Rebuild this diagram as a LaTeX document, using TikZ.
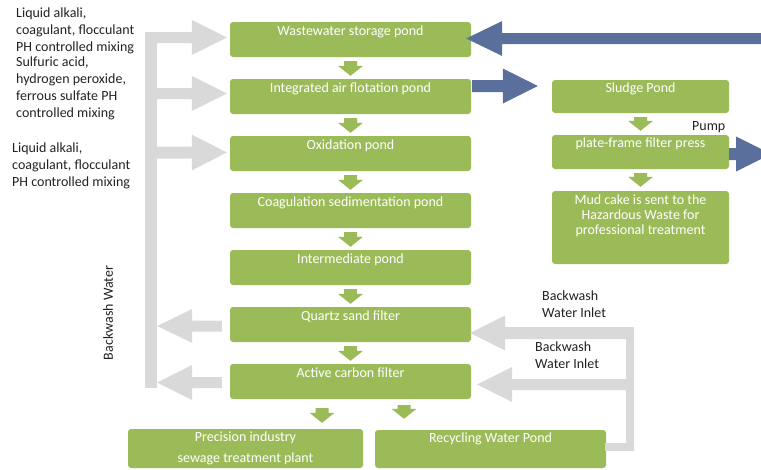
\documentclass[tikz,border=0pt]{standalone}
\usepackage{fontspec}
\setmainfont{Carlito}
\usetikzlibrary{calc}
\definecolor{pgreen}{HTML}{9BBB59}
\definecolor{pblue}{HTML}{5B6F9D}
\definecolor{pgrey}{HTML}{D9D9D9}
\definecolor{ptext}{HTML}{222222}
% horizontal fat arrow: style, from (only x used), tip, half shaft, half head, signed head length
\newcommand\harr[6]{\fill[#1] let \p1=(#2), \p2=(#3) in
 (\x1,{\y2+#4}) -- ({\x2-(#6)},{\y2+#4}) -- ({\x2-(#6)},{\y2+#5}) -- (\x2,\y2)
 -- ({\x2-(#6)},{\y2-#5}) -- ({\x2-(#6)},{\y2-#4}) -- (\x1,{\y2-#4}) -- cycle;}
% vertical (downward) fat arrow: style, from (only y used), tip, half shaft, half head, head length
\newcommand\varr[6]{\fill[#1] let \p1=(#2), \p2=(#3) in
 ({\x2-#4},\y1) -- ({\x2-#4},{\y2+#6}) -- ({\x2-#5},{\y2+#6}) -- (\x2,\y2)
 -- ({\x2+#5},{\y2+#6}) -- ({\x2+#4},{\y2+#6}) -- ({\x2+#4},\y1) -- cycle;}
\begin{document}
\begin{tikzpicture}[x=1pt,y=-1pt,
  box/.style={rectangle, fill=pgreen, rounded corners=3pt, inner sep=0pt},
  mainbox/.style={box, minimum width=241pt, minimum height=35pt},
  sidebox/.style={box, minimum width=177pt},
  btext/.style={text=white, font=\fontsize{14}{15.3}\selectfont, align=center, inner sep=0pt, anchor=north},
  ltext/.style={text=ptext, font=\fontsize{14}{17}\selectfont, align=left, inner sep=0pt, anchor=north west},
  bartxt/.style={text=ptext, font=\fontsize{14}{16.7}\selectfont, align=left, inner sep=0pt, anchor=north west},
  garrow/.style={pgreen}]
\useasboundingbox (0,0) rectangle (761,469);

% main column
\node[mainbox] (ws)  at (350.5, 39.5) {};
\node[mainbox] (iaf) at (350.5, 96.5) {};
\node[mainbox] (ox)  at (350.5,153.5) {};
\node[mainbox] (cs)  at (350.5,210.5) {};
\node[mainbox] (im)  at (350.5,267.5) {};
\node[mainbox] (qs)  at (350.5,324.5) {};
\node[mainbox] (ac)  at (350.5,381.5) {};
\node[btext] (ws-t)  at ($(ws.north)+(0,3.5)$)  {Wastewater storage pond};
\node[btext] (iaf-t) at ($(iaf.north)+(0,3.5)$) {Integrated air flotation pond};
\node[btext] (ox-t)  at ($(ox.north)+(0,3.5)$)  {Oxidation pond};
\node[btext] (cs-t)  at ($(cs.north)+(0,3.5)$)  {Coagulation sedimentation pond};
\node[btext] (im-t)  at ($(im.north)+(0,3.5)$)  {Intermediate pond};
\node[btext] (qs-t)  at ($(qs.north)+(0,3.5)$)  {Quartz sand filter};
\node[btext] (ac-t)  at ($(ac.north)+(0,3.5)$)  {Active carbon filter};

% sludge column
\node[sidebox, minimum height=33pt] (sp) at (640.5, 96.5) {};
\node[sidebox, minimum height=34pt] (pf) at (640.5,152) {};
\node[sidebox, minimum height=73pt] (mc) at (640.5,227.5) {};
\node[btext] (sp-t) at ($(sp.north)+(0,2.5)$) {Sludge Pond};
\node[btext] (pf-t) at ($(pf.north)+(0,3)$) {plate-frame filter press};
\node[btext] (mc-t) at ($(mc.north)+(0,3.5)$) {Mud cake is sent to the\\Hazardous Waste for\\professional treatment};

% bottom boxes
\node[box, minimum width=235pt, minimum height=39pt] (pit) at (245.5,448.5) {};
\node[box, minimum width=231pt, minimum height=38pt] (rc)  at (490.5,449) {};
\node[btext, font=\fontsize{14}{21}\selectfont] (pit-t) at ($(pit.north)+(0,2.5)$) {Precision industry\\sewage treatment plant};
\node[btext] (rc-t) at ($(rc.north)+(0,2.5)$) {Recycling Water Pond};

% small green arrows
\varr{garrow}{$(ws.south)+(0,4)$}{$(iaf.north)+(0,-3)$}{6.5pt}{12.5pt}{10pt}
\varr{garrow}{$(iaf.south)+(0,4)$}{$(ox.north)+(0,-3)$}{6.5pt}{12.5pt}{10pt}
\varr{garrow}{$(ox.south)+(0,4)$}{$(cs.north)+(0,-3)$}{6.5pt}{12.5pt}{10pt}
\varr{garrow}{$(cs.south)+(0,4)$}{$(im.north)+(0,-3)$}{6.5pt}{12.5pt}{10pt}
\varr{garrow}{$(im.south)+(0,4)$}{$(qs.north)+(0,-3)$}{6.5pt}{12.5pt}{10pt}
\varr{garrow}{$(qs.south)+(0,4)$}{$(ac.north)+(0,-3)$}{6.5pt}{12.5pt}{10pt}
\varr{garrow}{$(sp.south)+(0,4)$}{$(pf.north)+(0,-4)$}{6.5pt}{12.5pt}{10pt}
\varr{garrow}{$(pf.south)+(0,4)$}{$(mc.north)+(0,-4)$}{6.5pt}{12.5pt}{10pt}
\coordinate (pa) at ($(ac.south)+(-28.5,9)$);
\coordinate (ra) at ($(ac.south)+(53.5,6)$);
\varr{garrow}{pa}{$(pit.north -| pa)+(0,-6)$}{6.5pt}{12.5pt}{10pt}
\varr{garrow}{ra}{$(rc.north -| ra)+(0,-11)$}{6.5pt}{12.5pt}{10pt}

% blue arrows
\coordinate (in1) at (775,38.5);
\harr{pblue}{in1}{$(ws.east)+(-5,-1)$}{5.5pt}{17.5pt}{-36pt}
\harr{pblue}{$(iaf.east)+(1,0)$}{$(sp.west)+(-14,-10.5)$}{6pt}{17.5pt}{35pt}
\coordinate (pumpout) at ($(pf.east)+(42,2)$);
\harr{pblue}{pf.east}{pumpout}{6pt}{17.5pt}{35pt}
\node[ltext, anchor=base west] (pump) at (692,130.5) {Pump};

% left grey backwash structure
\node[fill=pgrey, inner sep=0pt, minimum width=12pt, minimum height=356pt] (bar) at (151,210) {};
\harr{pgrey}{bar.center}{$(ws.west)+(-3,-2)$}{5.5pt}{17.5pt}{35pt}
\harr{pgrey}{bar.center}{$(iaf.west)+(-3,-3)$}{5.5pt}{17.5pt}{35pt}
\harr{pgrey}{bar.center}{$(ox.west)+(-3,-1)$}{6pt}{18pt}{35pt}
\harr{pgrey}{$(qs.west)+(-8,0)$}{$(bar.east |- qs.west)+(0,1.5)$}{5.5pt}{17pt}{-35pt}
\harr{pgrey}{$(ac.west)+(-8,0)$}{$(bar.east |- ac.west)+(0,1)$}{5.5pt}{17.5pt}{-35pt}
\node[rotate=90, text=ptext, font=\fontsize{14}{17}\selectfont, inner sep=0pt] (bw) at (108,313) {Backwash Water};

% right grey backwash inlet structure
\node[fill=pgrey, inner sep=0pt, minimum width=8pt, minimum height=124pt] (rbar) at (630,389) {};
\harr{pgrey}{rbar.center}{$(qs.east)+(-1,8.5)$}{6pt}{17.5pt}{-35pt}
\harr{pgrey}{rbar.center}{$(ac.east)+(6,3)$}{5.5pt}{17.5pt}{-35pt}
\fill[pgrey] ($(rc.east)+(-1,-6)$) rectangle (rbar.south east);
\node[bartxt] (bwi1) at (542,291) {Backwash\\Water Inlet};
\node[bartxt] (bwi2) at (535,342) {Backwash\\Water Inlet};

% left labels
\node[ltext] (lab1) at (16,7.5) {Liquid alkali,\\coagulant, flocculant\\PH controlled mixing};
\node[ltext] (lab2) at (16,57) {Sulfuric acid,\\hydrogen peroxide,\\ferrous sulfate PH\\controlled mixing};
\node[ltext] (lab3) at (12,143) {Liquid alkali,\\coagulant, flocculant\\PH controlled mixing};
\end{tikzpicture}
\end{document}
